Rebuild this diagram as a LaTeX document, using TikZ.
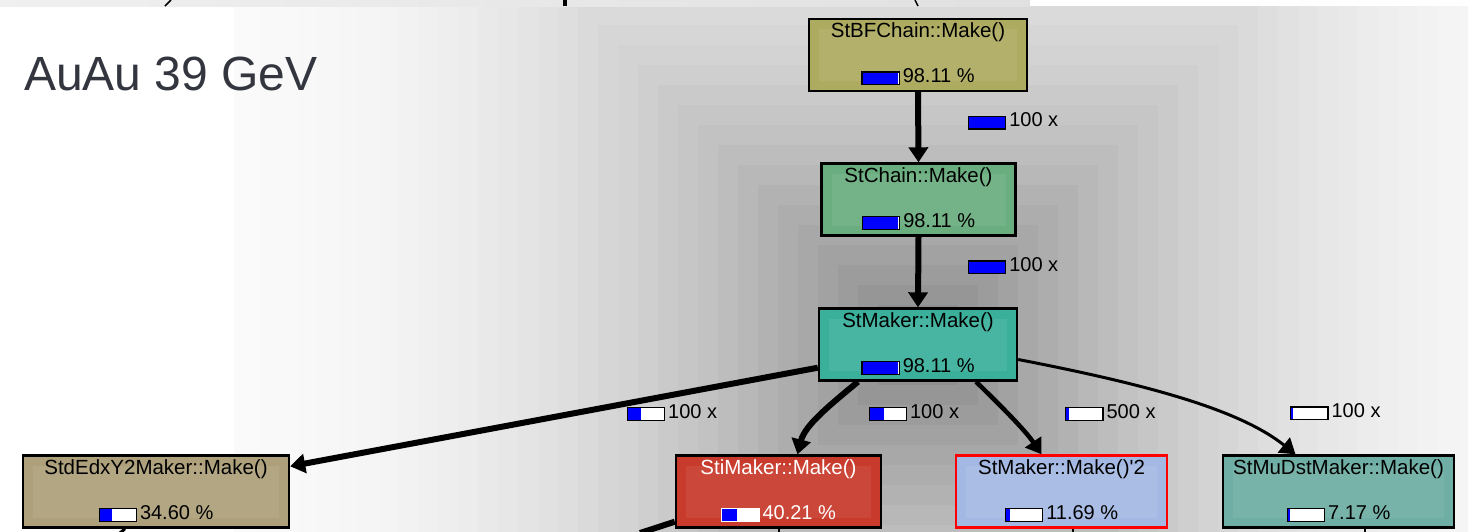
\documentclass[tikz,border=0pt]{standalone}
\usepackage{fontspec}
\setmainfont{Liberation Sans}
\usetikzlibrary{arrows.meta,positioning}

\definecolor{bfcol}{HTML}{ADAB60}
\definecolor{chcol}{HTML}{6AAE80}
\definecolor{mkcol}{HTML}{3AB09A}
\definecolor{dedxcol}{HTML}{ADA07A}
\definecolor{sticol}{HTML}{C83A2C}
\definecolor{mktwocol}{HTML}{A4B8E4}
\definecolor{mucol}{HTML}{6EAEA4}
\definecolor{slate}{HTML}{33353F}

\newlength{\barlen}
\setlength{\barlen}{36pt}
\newcommand{\ratebar}[1]{\raisebox{-1.5pt}{\setlength{\fboxsep}{0pt}\setlength{\fboxrule}{1.2pt}%
  \fbox{\textcolor{blue}{\rule{#1\barlen}{11.6pt}}\textcolor{white}{\rule{\dimexpr\barlen-#1\barlen\relax}{11.6pt}}}}\hspace{3pt}}

\tikzset{
   fn/.style={draw=black, line width=2.4pt, minimum height=72pt, inner sep=0pt,
      path picture={\fill[white,opacity=0.07] ([shift={(10pt,-10pt)}]path picture bounding box.north west)
         rectangle ([shift={(-10pt,10pt)}]path picture bounding box.south east);}},
   fname/.style={anchor=base, inner sep=0pt, font=\fontsize{20.5}{24}\selectfont},
   fpct/.style={anchor=base, inner sep=0pt, font=\fontsize{20}{24}\selectfont},
   call/.style={anchor=west, inner sep=0pt, font=\fontsize{20}{24}\selectfont},
   callarrow/.style={-{Triangle[length=15pt,width=19pt]}, line width=#1}
}

\begin{document}
\begin{tikzpicture}[x=1pt,y=-1pt]
   \useasboundingbox (0,0) rectangle (1468,531);
   \fill[white] (0,0) rectangle (1468,531);
   % grey background of the graph
   \begin{scope}
      \clip (234,6) rectangle (1468,531);
      \foreach \s in {700,680,...,20} {
         \pgfmathsetmacro{\lev}{2+47*(1-\s/700)^2}
         \fill[black!\lev] (918-\s,345-\s) rectangle (918+\s,345+\s);
      }
   \end{scope}
   % strip of the slide above
   \shade[left color=black!6, middle color=black!28, right color=black!12] (0,0) rectangle (1030,6);
   \draw[line width=1.5pt] (165,6) -- (171,0);
   \draw[line width=4pt] (565,0) -- (565,6);
   \draw[line width=1.5pt] (915,0) .. controls (917,3) .. (918,6);

   \node[anchor=base west, inner sep=0pt, text=slate, font=\fontsize{48}{56}\selectfont] (run) at (24,90) {AuAu 39 GeV};

   \node[fn, fill=bfcol, minimum width=218pt] (bf) at (918,55) {};
   \node[fname] (bfname) at ([yshift=-20pt]bf.north) {StBFChain::Make()};
   \node[fpct] (bfpct) at ([yshift=9.5pt]bf.south) {\ratebar{0.98}98.11 \%};

   \node[fn, fill=chcol, minimum width=194pt] (ch) at (918.5,199.5) {};
   \node[fname] (chname) at ([yshift=-20pt]ch.north) {StChain::Make()};
   \node[fpct] (chpct) at ([yshift=9.5pt]ch.south) {\ratebar{0.98}98.11 \%};

   \node[fn, fill=mkcol, minimum width=198pt] (mk) at (918,344.5) {};
   \node[fname] (mkname) at ([yshift=-20pt]mk.north) {StMaker::Make()};
   \node[fpct] (mkpct) at ([yshift=9.5pt]mk.south) {\ratebar{0.98}98.11 \%};

   \node[fn, fill=dedxcol, minimum width=266pt] (dedx) at (156,491.5) {};
   \node[fname] (dedxname) at ([yshift=-20pt]dedx.north) {StdEdxY2Maker::Make()};
   \node[fpct] (dedxpct) at ([yshift=9.5pt]dedx.south) {\ratebar{0.346}34.60 \%};

   \node[fn, fill=sticol, minimum width=205pt] (sti) at (778.5,491.5) {};
   \node[fname, text=white] (stiname) at ([yshift=-20pt]sti.north) {StiMaker::Make()};
   \node[fpct, text=white] (stipct) at ([yshift=9.5pt]sti.south) {\ratebar{0.40}40.21 \%};

   \node[fn, fill=mktwocol, draw=red, minimum width=211pt] (mktwo) at (1061.5,491.5) {};
   \node[fname] (mktwoname) at ([yshift=-20pt]mktwo.north) {StMaker::Make()\textquotesingle 2};
   \node[fpct] (mktwopct) at ([yshift=9.5pt]mktwo.south) {\ratebar{0.117}11.69 \%};

   \node[fn, fill=mucol, minimum width=231pt] (mu) at (1338.5,491.5) {};
   \node[fname] (muname) at ([yshift=-20pt]mu.north) {StMuDstMaker::Make()};
   \node[fpct] (mupct) at ([yshift=9.5pt]mu.south) {\ratebar{0.072}7.17 \%};

   % calls
   \draw[callarrow=6pt] (bf.south) -- (ch.north);
   \draw[callarrow=6pt] (ch.south) -- (mk.north);
   \draw[callarrow=6pt] ([yshift=14pt]mk.south west) -- ([yshift=-12pt]dedx.north east);
   \draw[callarrow=6pt] ([xshift=-60pt]mk.south) .. controls (830,405) and (805,425) .. ([xshift=19pt]sti.north);
   \draw[callarrow=4.5pt] ([xshift=58pt]mk.south) .. controls (1000,405) and (1025,430) .. ([xshift=-20pt]mktwo.north);
   \draw[callarrow=3pt] ([yshift=-15pt]mk.east) .. controls (1150,385) and (1240,410) .. ([xshift=-43pt]mu.north);

   \node[call] (bfch) at (967.7,121.2) {\ratebar{1}100 x};
   \node[call] (chmk) at (967.7,266) {\ratebar{1}100 x};
   \node[call] (mkdedx) at (626.6,412.8) {\ratebar{0.35}100 x};
   \node[call] (mksti) at (868.5,412.8) {\ratebar{0.40}100 x};
   \node[call] (mkmktwo) at (1065,412.8) {\ratebar{0.08}500 x};
   \node[call] (mkmu) at (1290,412) {\ratebar{0.05}100 x};

   % calls leaving the picture
   \coordinate (dedxout) at (120,533);
   \coordinate (stiin) at (640,533);
   \coordinate (stiout) at (778.5,533);
   \coordinate (mktwoout) at (1073,533);
   \coordinate (muout) at (1365,533);
   \draw[line width=3pt] ([xshift=-31pt]dedx.south) -- (dedxout);
   \draw[line width=6pt] ([yshift=7pt]sti.south west) -- (stiin);
   \draw[line width=2pt] (sti.south) -- (stiout);
   \draw[line width=2pt] ([xshift=11.5pt]mktwo.south) -- (mktwoout);
   \draw[line width=2pt] ([xshift=26.5pt]mu.south) -- (muout);
\end{tikzpicture}
\end{document}
